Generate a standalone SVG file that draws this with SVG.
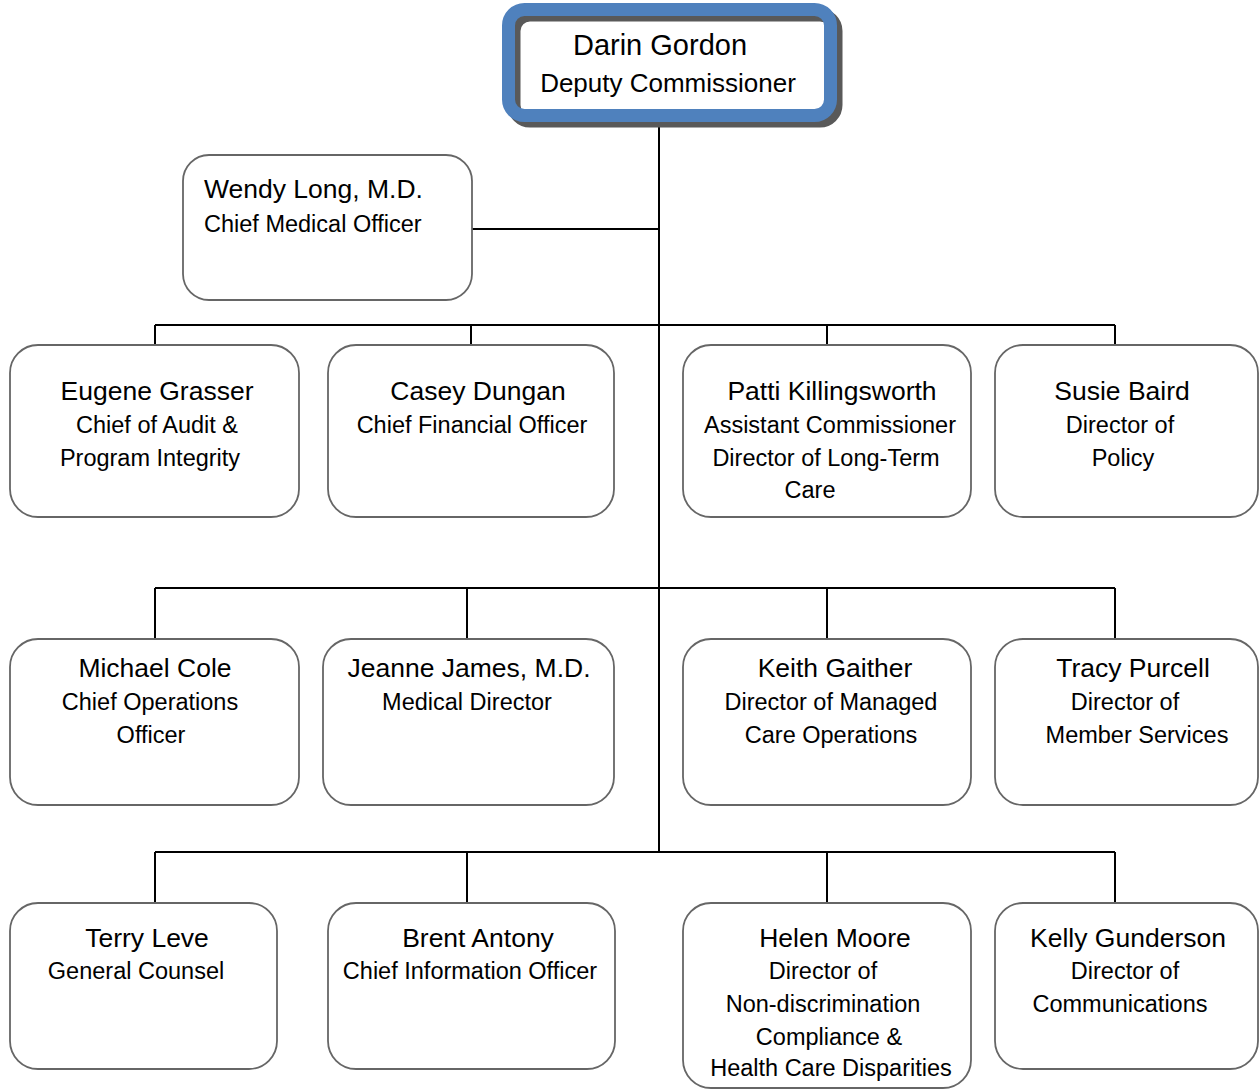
<svg xmlns="http://www.w3.org/2000/svg" width="1260" height="1092" viewBox="0 0 1260 1092">
<style>
text{font-family:"Liberation Sans",Arial,sans-serif;fill:#000;text-anchor:middle}
.nm{font-size:26.5px}
.tt{font-size:23.5px}
.box{fill:#fff;stroke:#666;stroke-width:1.8}
.conn{fill:none;stroke:#000;stroke-width:2}
</style>
<rect width="1260" height="1092" fill="#fff"/>
<g id="connectors" class="conn">
<path d="M659,115 V852"/>
<path d="M472,229 H659"/>
<path d="M155,325 H1115 M155,325 V345 M471,325 V345 M827,325 V345 M1115,325 V345"/>
<path d="M155,588 H1115 M155,588 V639 M467,588 V639 M827,588 V639 M1115,588 V639"/>
<path d="M155,852 H1115 M155,852 V903 M467,852 V903 M827,852 V903 M1115,852 V903"/>
</g>
<g id="darin-gordon">
<rect x="514" y="15" width="322" height="106" rx="16" fill="none" stroke="#595959" stroke-width="13"/>
<rect x="508.5" y="9.5" width="322" height="106" rx="16" fill="none" stroke="#4f81bd" stroke-width="13"/>
<text x="660" y="55" style="font-size:29px">Darin Gordon</text>
<text x="668" y="92" style="font-size:26px">Deputy Commissioner</text>
</g>
<g id="wendy-long">
<rect class="box" x="183" y="155" width="289" height="145" rx="26"/>
<text class="nm" x="204" y="198" style="text-anchor:start">Wendy Long, M.D.</text>
<text class="tt" x="204" y="232" style="text-anchor:start">Chief Medical Officer</text>
</g>
<g id="eugene-grasser">
<rect class="box" x="10" y="345" width="289" height="172" rx="28"/>
<text class="nm" x="157" y="400">Eugene Grasser</text>
<text class="tt" x="157" y="433">Chief of Audit &amp;</text>
<text class="tt" x="150" y="466">Program Integrity</text>
</g>
<g id="casey-dungan">
<rect class="box" x="328" y="345" width="286" height="172" rx="28"/>
<text class="nm" x="478" y="400">Casey Dungan</text>
<text class="tt" x="472" y="433">Chief Financial Officer</text>
</g>
<g id="patti-killingsworth">
<rect class="box" x="683" y="345" width="288" height="172" rx="28"/>
<text class="nm" x="832" y="400">Patti Killingsworth</text>
<text class="tt" x="830" y="433">Assistant Commissioner</text>
<text class="tt" x="826" y="466">Director of Long-Term</text>
<text class="tt" x="810" y="498">Care</text>
</g>
<g id="susie-baird">
<rect class="box" x="995" y="345" width="263" height="172" rx="28"/>
<text class="nm" x="1122" y="400">Susie Baird</text>
<text class="tt" x="1120" y="433">Director of</text>
<text class="tt" x="1123" y="466">Policy</text>
</g>
<g id="michael-cole">
<rect class="box" x="10" y="639" width="289" height="166" rx="28"/>
<text class="nm" x="155" y="677">Michael Cole</text>
<text class="tt" x="150" y="710">Chief Operations</text>
<text class="tt" x="151" y="743">Officer</text>
</g>
<g id="jeanne-james">
<rect class="box" x="323" y="639" width="291" height="166" rx="28"/>
<text class="nm" x="469" y="677">Jeanne James, M.D.</text>
<text class="tt" x="467" y="710">Medical Director</text>
</g>
<g id="keith-gaither">
<rect class="box" x="683" y="639" width="288" height="166" rx="28"/>
<text class="nm" x="835" y="677">Keith Gaither</text>
<text class="tt" x="831" y="710">Director of Managed</text>
<text class="tt" x="831" y="743">Care Operations</text>
</g>
<g id="tracy-purcell">
<rect class="box" x="995" y="639" width="263" height="166" rx="28"/>
<text class="nm" x="1133" y="677">Tracy Purcell</text>
<text class="tt" x="1125" y="710">Director of</text>
<text class="tt" x="1137" y="743">Member Services</text>
</g>
<g id="terry-leve">
<rect class="box" x="10" y="903" width="267" height="166" rx="28"/>
<text class="nm" x="147" y="947">Terry Leve</text>
<text class="tt" x="136" y="979">General Counsel</text>
</g>
<g id="brent-antony">
<rect class="box" x="328" y="903" width="287" height="166" rx="28"/>
<text class="nm" x="478" y="947">Brent Antony</text>
<text class="tt" x="470" y="979">Chief Information Officer</text>
</g>
<g id="helen-moore">
<rect class="box" x="683" y="903" width="288" height="185" rx="28"/>
<text class="nm" x="835" y="947">Helen Moore</text>
<text class="tt" x="823" y="979">Director of</text>
<text class="tt" x="823" y="1012">Non-discrimination</text>
<text class="tt" x="829" y="1045">Compliance &amp;</text>
<text class="tt" x="831" y="1076">Health Care Disparities</text>
</g>
<g id="kelly-gunderson">
<rect class="box" x="995" y="903" width="263" height="166" rx="28"/>
<text class="nm" x="1128" y="947">Kelly Gunderson</text>
<text class="tt" x="1125" y="979">Director of</text>
<text class="tt" x="1120" y="1012">Communications</text>
</g>
</svg>
